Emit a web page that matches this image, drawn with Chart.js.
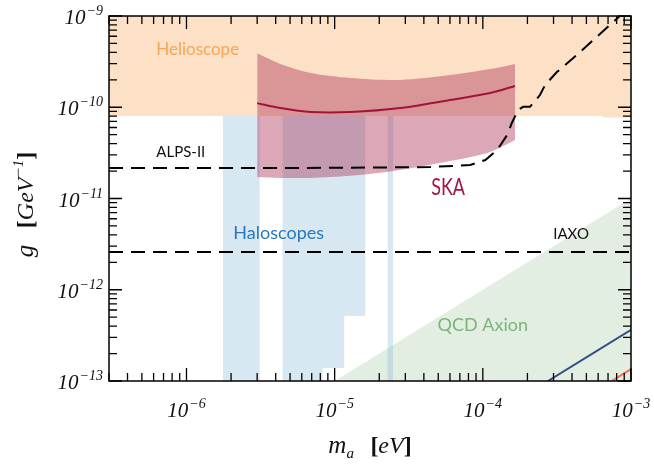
<!DOCTYPE html>
<html>
<head>
<meta charset="utf-8">
<script src="https://cdn.jsdelivr.net/npm/chart.js@4.4.0/dist/chart.umd.min.js"></script>
<style>
  html, body { margin: 0; padding: 0; background: #fff; }
  #wrap { width: 654px; height: 466px; }
</style>
</head>
<body>
<div id="wrap"><canvas id="axionChart" width="654" height="466"></canvas></div>
<script>
// axis ranges and tick exponents
const massMin = 3e-7, massMax = 1e-3;
const gMin = 1e-13, gMax = 1e-9;
const massTickExps = [-6, -5, -4, -3];
const gTickExps = [-13, -12, -11, -10, -9];

// helioscope bound (filled up to the top)
const helioMass = [3e-7, 6.4e-4, 6.6e-4, 1e-3];
const helioG = [8.0e-11, 8.0e-11, 7.7e-11, 7.7e-11];

// haloscopes: lower edge of the bands, filled up to haloTop
const haloTop = 8.0e-11;
const haloMass = [1.76e-6, 1.76e-6, 3.12e-6, 3.12e-6, 4.45e-6, 4.45e-6, 8.3e-6, 8.3e-6,
                  1.16e-5, 1.16e-5, 1.61e-5, 1.61e-5, 2.28e-5, 2.28e-5, 2.49e-5, 2.49e-5];
const haloG = [8e-11, 1e-13, 1e-13, 8e-11, 8e-11, 1e-13, 1e-13, 1.39e-13,
               1.39e-13, 5.15e-13, 5.15e-13, 8e-11, 8e-11, 1e-13, 1e-13, 8e-11];

// SKA sensitivity band
const skaMass = [3.0e-6, 4.3e-6, 6.9e-6, 1.28e-5, 2.77e-5, 6.0e-5, 1.12e-4, 1.65e-4];
const skaUpper = [3.9e-10, 2.98e-10, 2.37e-10, 2.09e-10, 1.99e-10, 2.25e-10, 2.62e-10, 2.98e-10];
const skaLower = [1.72e-11, 1.68e-11, 1.68e-11, 1.77e-11, 2.05e-11, 2.57e-11, 3.24e-11, 4.38e-11];
const skaCentral = [1.11e-10, 9.8e-11, 8.87e-11, 8.87e-11, 9.8e-11, 1.20e-10, 1.43e-10, 1.71e-10];

// ALPS-II projection
const alpsMass = [3e-7, 5.9e-6, 4.42e-5, 8.22e-5, 1.04e-4, 1.25e-4, 1.46e-4, 1.57e-4,
                  1.73e-4, 1.87e-4, 2.08e-4, 2.43e-4, 2.63e-4, 3.16e-4, 4.31e-4, 8.4e-4];
const alpsG = [2.16e-11, 2.16e-11, 2.21e-11, 2.33e-11, 2.64e-11, 3.40e-11, 4.97e-11, 6.72e-11,
               9.33e-11, 1.01e-10, 1.01e-10, 1.36e-10, 1.75e-10, 2.43e-10, 3.74e-10, 1e-9];

// IAXO projection
const iaxoMass = [3e-7, 1e-3];
const iaxoG = [2.6e-12, 2.6e-12];

// QCD axion band and model lines
const qcdMass = [1e-5, 1e-3];
const qcdG = [1e-13, 1e-11];
const ksvzMass = [2.75e-4, 1e-3];
const ksvzG = [1e-13, 3.63e-13];
const dfszMass = [7.4e-4, 1e-3];
const dfszG = [1e-13, 1.35e-13];

// region labels
const regionLabels = ['Helioscope', 'ALPS-II', 'SKA', 'Haloscopes', 'IAXO', 'QCD Axion'];
const labelMass = [1.19e-6, 9.16e-7, 5.83e-5, 4.19e-6, 3.94e-4, 1.0e-4];
const labelG = [4.24e-10, 3.24e-11, 1.34e-11, 4.19e-12, 4.08e-12, 4.11e-13];
const labelStyle = [
  { color: 'rgb(246,166,88)', font: '17px Lato', sx: 1 },
  { color: '#111', font: '15px Lato', sx: 1 },
  { color: 'rgb(160,22,68)', font: '24px Lato', sx: 0.75 },
  { color: 'rgb(40,120,192)', font: '18px Lato', sx: 1 },
  { color: '#111', font: '15px Lato', sx: 1 },
  { color: 'rgb(122,180,122)', font: '18px Lato', sx: 1 }
];

const pts = (xs, ys) => xs.map((x, i) => ({ x: x, y: ys[i] }));
const clear = 'rgba(0,0,0,0)';

// frame, inward ticks, tick labels, axis titles, region labels
const SERIF = '"Liberation Serif", "DejaVu Serif", serif';

function drawPow(ctx, exp, x, y, align) {
  const base = '10', sup = '\u2212' + Math.abs(exp);
  ctx.font = 'italic 21px ' + SERIF;
  const wb = ctx.measureText(base).width;
  ctx.font = 'italic 14px ' + SERIF;
  const ws = ctx.measureText(sup).width;
  const total = wb + 1 + ws;
  let x0 = align === 'right' ? x - total : x - total / 2;
  ctx.textAlign = 'left';
  ctx.textBaseline = 'alphabetic';
  ctx.font = 'italic 21px ' + SERIF;
  ctx.fillText(base, x0, y + 8);
  ctx.font = 'italic 14px ' + SERIF;
  ctx.fillText(sup, x0 + wb + 1, y - 1);
}

function tickValues(min, max) {
  const vals = [];
  for (let e = Math.floor(Math.log10(min)); e <= Math.ceil(Math.log10(max)); e++) {
    for (let k = 1; k < 10; k++) {
      const v = k * Math.pow(10, e);
      if (v >= min * 0.999 && v <= max * 1.001) vals.push({ v: v, major: k === 1 });
    }
  }
  return vals;
}

function drawParts(ctx, parts, cx, baseline) {
  let total = 0;
  parts.forEach(p => { ctx.font = p.f; p.w = ctx.measureText(p.t).width; total += p.w; });
  let x = cx - total / 2;
  ctx.textAlign = 'left';
  ctx.textBaseline = 'alphabetic';
  parts.forEach(p => { ctx.font = p.f; ctx.fillText(p.t, x, baseline + p.dy); x += p.w; });
}

const axesPlugin = {
  id: 'axesPlugin',
  afterDatasetsDraw(chart) {
    const ctx = chart.ctx;
    const xs = chart.scales.x, ys = chart.scales.y;
    regionLabels.forEach((t, i) => {
      const st = labelStyle[i];
      ctx.save();
      ctx.translate(xs.getPixelForValue(labelMass[i]), ys.getPixelForValue(labelG[i]));
      ctx.scale(st.sx, 1);
      ctx.fillStyle = st.color;
      ctx.font = st.font;
      ctx.textAlign = 'center';
      ctx.textBaseline = 'middle';
      ctx.fillText(t, 0, 0);
      ctx.restore();
    });
  },
  afterDraw(chart) {
    const ctx = chart.ctx;
    const a = chart.chartArea;
    const xs = chart.scales.x, ys = chart.scales.y;
    ctx.save();
    ctx.strokeStyle = '#000';
    ctx.lineWidth = 1.5;
    ctx.strokeRect(a.left, a.top, a.right - a.left, a.bottom - a.top);

    ctx.lineWidth = 1.3;
    ctx.beginPath();
    tickValues(massMin, massMax).forEach(t => {
      const px = xs.getPixelForValue(t.v);
      const len = t.major ? 13 : 8;
      ctx.moveTo(px, a.bottom); ctx.lineTo(px, a.bottom - len);
      ctx.moveTo(px, a.top); ctx.lineTo(px, a.top + len);
    });
    tickValues(gMin, gMax).forEach(t => {
      const py = ys.getPixelForValue(t.v);
      const len = t.major ? 13 : 8;
      ctx.moveTo(a.left, py); ctx.lineTo(a.left + len, py);
      ctx.moveTo(a.right, py); ctx.lineTo(a.right - len, py);
    });
    ctx.stroke();

    ctx.fillStyle = '#111';
    massTickExps.forEach(e => drawPow(ctx, e, xs.getPixelForValue(Math.pow(10, e)), a.bottom + 28, 'center'));
    gTickExps.forEach(e => drawPow(ctx, e, a.left - 6, ys.getPixelForValue(Math.pow(10, e)), 'right'));

    // x title: m_a [eV]
    const xParts = [
      { t: 'm', f: 'italic 25px ' + SERIF, dy: 0 },
      { t: 'a', f: 'italic 15px ' + SERIF, dy: 5 },
      { t: '   ', f: '22px ' + SERIF, dy: 0 },
      { t: '[', f: 'bold 24px ' + SERIF, dy: 0 },
      { t: 'eV', f: 'italic 24px ' + SERIF, dy: 0 },
      { t: ']', f: 'bold 24px ' + SERIF, dy: 0 }
    ];
    drawParts(ctx, xParts, (a.left + a.right) / 2, a.bottom + 72);

    // y title: g [GeV^-1]
    ctx.save();
    ctx.translate(33, (a.top + a.bottom) / 2 + 6);
    ctx.rotate(-Math.PI / 2);
    const yParts = [
      { t: 'g', f: 'italic 25px ' + SERIF, dy: 0 },
      { t: '   ', f: '22px ' + SERIF, dy: 0 },
      { t: '[', f: 'bold 24px ' + SERIF, dy: 0 },
      { t: 'GeV', f: 'italic 24px ' + SERIF, dy: 0 },
      { t: '\u2212' + '1', f: 'italic 15px ' + SERIF, dy: -10 },
      { t: ']', f: 'bold 24px ' + SERIF, dy: 0 }
    ];
    drawParts(ctx, yParts, 0, 0);
    ctx.restore();
    ctx.restore();
  }
};

const ctx = document.getElementById('axionChart').getContext('2d');
const axionChart = new Chart(ctx, {
  type: 'scatter',
  data: {
    datasets: [
      { label: 'Helioscope', data: pts(helioMass, helioG), fill: 'end',
        backgroundColor: 'rgb(252,225,198)', borderColor: clear, borderWidth: 0, order: 9 },
      { label: 'QCD Axion', data: pts(qcdMass, qcdG), fill: 'start',
        backgroundColor: 'rgb(227,238,227)', borderColor: clear, borderWidth: 0, order: 8 },
      { label: 'Haloscopes', data: pts(haloMass, haloG), fill: { value: haloTop },
        backgroundColor: 'rgba(125,178,212,0.3)', borderColor: clear, borderWidth: 0, order: 7 },
      { label: 'SKA upper', data: pts(skaMass, skaUpper), fill: '+1', tension: 0.3,
        backgroundColor: 'rgba(167,37,77,0.4)', borderColor: clear, borderWidth: 0, order: 6 },
      { label: 'SKA lower', data: pts(skaMass, skaLower), fill: false, tension: 0.3,
        borderColor: clear, borderWidth: 0, order: 5 },
      { label: 'SKA', data: pts(skaMass, skaCentral), fill: false, tension: 0.3,
        borderColor: 'rgb(160,20,60)', borderWidth: 2, order: 4 },
      { label: 'KSVZ', data: pts(ksvzMass, ksvzG), fill: false,
        borderColor: 'rgb(52,78,130)', borderWidth: 2, order: 3 },
      { label: 'DFSZ', data: pts(dfszMass, dfszG), fill: false,
        borderColor: 'rgb(240,112,82)', borderWidth: 2, order: 3 },
      { label: 'IAXO', data: pts(iaxoMass, iaxoG), fill: false,
        borderColor: '#000', borderWidth: 2, borderDash: [14, 8], order: 2 },
      { label: 'ALPS-II', data: pts(alpsMass, alpsG), fill: false,
        borderColor: '#000', borderWidth: 2, borderDash: [14, 8], order: 1 }
    ]
  },
  options: {
    responsive: false,
    animation: false,
    showLine: true,
    layout: { padding: { left: 109, right: 23, top: 16, bottom: 85 } },
    elements: { point: { radius: 0, hoverRadius: 0 } },
    plugins: { legend: { display: false }, tooltip: { enabled: false } },
    scales: {
      x: { type: 'logarithmic', min: massMin, max: massMax, display: false },
      y: { type: 'logarithmic', min: gMin, max: gMax, display: false }
    }
  },
  plugins: [axesPlugin]
});
</script>
</body>
</html>
